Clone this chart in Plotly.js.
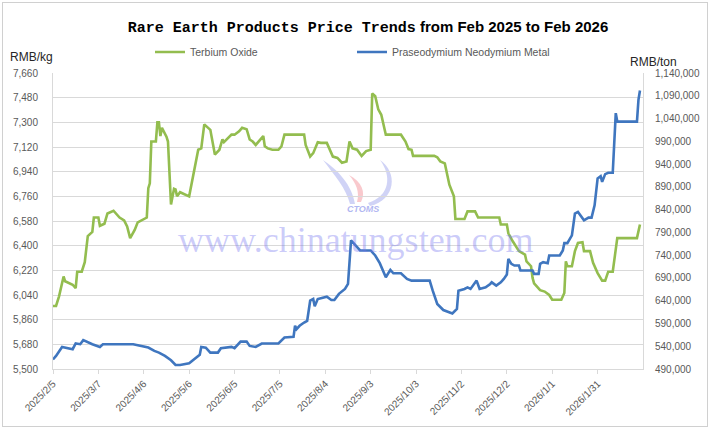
<!DOCTYPE html>
<html>
<head>
<meta charset="utf-8">
<script src="https://cdn.plot.ly/plotly-3.0.1.min.js"></script>
<style>
  html, body { margin: 0; padding: 0; background: #fff; }
  #chart { width: 710px; height: 429px; position: relative; }
  #frame { position: absolute; left: 2px; top: 2px; width: 704px; height: 423px; border: 1px solid #d0d0d0; pointer-events: none; }
</style>
</head>
<body>
<div id="chart"></div>
<div id="frame"></div>
<script>
// ---- data ----
const terbiumDates = [
  "2025-02-05","2025-02-07","2025-02-09","2025-02-12","2025-02-13","2025-02-18","2025-02-20","2025-02-21","2025-02-24","2025-02-26",
  "2025-02-28","2025-03-03","2025-03-04","2025-03-07","2025-03-08","2025-03-11","2025-03-13","2025-03-17","2025-03-21","2025-03-24",
  "2025-03-26","2025-03-28","2025-03-31","2025-04-02","2025-04-08","2025-04-09","2025-04-10","2025-04-11","2025-04-14","2025-04-15",
  "2025-04-16","2025-04-17","2025-04-18","2025-04-21","2025-04-22","2025-04-23","2025-04-24","2025-04-26","2025-04-27","2025-04-28",
  "2025-04-30","2025-05-06","2025-05-09","2025-05-12","2025-05-14","2025-05-16","2025-05-18","2025-05-20","2025-05-22","2025-05-23",
  "2025-05-26","2025-05-28","2025-05-29","2025-06-01","2025-06-03","2025-06-05","2025-06-08","2025-06-10","2025-06-13","2025-06-15",
  "2025-06-17","2025-06-19","2025-06-22","2025-06-24","2025-06-25","2025-06-27","2025-06-30","2025-07-04","2025-07-06","2025-07-08",
  "2025-07-21","2025-07-22","2025-07-25","2025-07-27","2025-07-30","2025-08-01","2025-08-05","2025-08-07","2025-08-09","2025-08-12",
  "2025-08-15","2025-08-18","2025-08-20","2025-08-22","2025-08-25","2025-08-28","2025-08-31","2025-09-03","2025-09-04","2025-09-06",
  "2025-09-08","2025-09-10","2025-09-12","2025-09-13","2025-09-23","2025-09-26","2025-09-28","2025-09-30","2025-10-01","2025-10-15",
  "2025-10-17","2025-10-19","2025-10-22","2025-10-24","2025-10-25","2025-10-28","2025-10-29","2025-11-04","2025-11-06","2025-11-11",
  "2025-11-13","2025-11-27","2025-11-28","2025-12-02","2025-12-03","2025-12-06","2025-12-10","2025-12-14","2025-12-15","2025-12-18",
  "2025-12-19","2025-12-20","2025-12-24","2025-12-27","2025-12-30","2026-01-01","2026-01-07","2026-01-09","2026-01-10","2026-01-11",
  "2026-01-14","2026-01-16","2026-01-18","2026-01-21","2026-01-22","2026-01-26","2026-01-28","2026-01-31","2026-02-03","2026-02-05",
  "2026-02-07","2026-02-10","2026-02-13","2026-02-26","2026-02-28"
];
const terbiumPrices = [
  5960,5960,6030,6175,6140,6115,6090,6210,6210,6280,
  6470,6500,6605,6605,6545,6560,6635,6655,6605,6585,
  6540,6455,6515,6570,6605,6820,6855,7160,7160,7300,
  7300,7200,7260,7195,7160,6880,6700,6815,6810,6760,
  6790,6760,6930,7100,7110,7285,7265,7245,7125,7065,
  7100,7175,7155,7185,7210,7210,7235,7260,7250,7175,
  7160,7135,7175,7200,7125,7110,7100,7100,7125,7210,
  7210,7135,7050,7075,7155,7150,7150,7100,7050,7040,
  7005,7015,7160,7110,7100,7055,7090,7100,7510,7490,
  7395,7355,7250,7210,7210,7160,7105,7100,7055,7055,
  7045,7015,7000,6905,6845,6760,6595,6595,6650,6650,
  6605,6605,6555,6555,6490,6430,6360,6335,6285,6250,
  6165,6125,6075,6065,6040,6005,6005,6055,6285,6250,
  6250,6360,6420,6425,6360,6360,6275,6200,6145,6145,
  6210,6210,6455,6455,6555
];

const prndDates = [
  "2025-02-05","2025-02-07","2025-02-11","2025-02-14","2025-02-18","2025-02-20","2025-02-23","2025-02-25","2025-02-27","2025-03-03",
  "2025-03-08","2025-03-10","2025-03-30","2025-04-04","2025-04-09","2025-04-13","2025-04-16","2025-04-20","2025-04-24","2025-04-27",
  "2025-04-30","2025-05-06","2025-05-09","2025-05-13","2025-05-14","2025-05-17","2025-05-20","2025-05-25","2025-05-27","2025-06-03",
  "2025-06-05","2025-06-09","2025-06-13","2025-06-15","2025-06-19","2025-06-23","2025-07-04","2025-07-08","2025-07-14","2025-07-15",
  "2025-07-16","2025-07-18","2025-07-21","2025-07-23","2025-07-25","2025-07-27","2025-07-28","2025-07-30","2025-08-05","2025-08-08",
  "2025-08-10","2025-08-13","2025-08-17","2025-08-19","2025-08-21","2025-08-24","2025-08-27","2025-09-03","2025-09-06","2025-09-09",
  "2025-09-11","2025-09-13","2025-09-16","2025-09-18","2025-09-23","2025-09-27","2025-09-30","2025-10-12","2025-10-14","2025-10-17",
  "2025-10-21","2025-10-24","2025-10-27","2025-10-30","2025-10-31","2025-11-04","2025-11-06","2025-11-08","2025-11-12","2025-11-14",
  "2025-11-18","2025-11-21","2025-11-22","2025-11-25","2025-11-28","2025-11-30","2025-12-02","2025-12-03","2025-12-05","2025-12-07",
  "2025-12-10","2025-12-11","2025-12-19","2025-12-20","2025-12-23","2025-12-24","2025-12-26","2025-12-29","2025-12-30","2026-01-06",
  "2026-01-07","2026-01-08","2026-01-09","2026-01-11","2026-01-14","2026-01-16","2026-01-18","2026-01-20","2026-01-22","2026-01-25",
  "2026-01-27","2026-01-29","2026-01-31","2026-02-02","2026-02-03","2026-02-05","2026-02-07","2026-02-10","2026-02-12","2026-02-13",
  "2026-02-26","2026-02-27","2026-02-28"
];
const prndPrices = [
  511000,518700,538500,537000,533500,546000,544500,553300,550000,544500,
  538500,544500,544500,540700,537000,529700,526000,518700,509200,498800,
  498800,502600,511400,521000,538500,537000,526000,526000,535600,538500,
  535600,550200,550200,540700,538500,546000,546000,559100,560600,584900,
  577500,584900,592100,595800,640000,643700,628000,643700,648800,641500,
  641500,655000,665800,676800,772300,761000,750300,750300,739300,722300,
  706200,691400,707700,700200,700200,687900,684100,684100,662000,632700,
  619500,616500,612000,621700,662000,665800,669300,665800,684100,665800,
  669300,676800,680300,673000,680300,687900,697300,732000,721000,717200,
  717200,706200,706200,698900,698900,721000,724600,722300,739300,739300,
  746700,750300,766400,766400,783400,831200,834800,825300,816400,822400,
  822400,849500,908400,913500,901000,917900,920800,920800,1051800,1033300,
  1033300,1081100,1101600
];

const xTickVals = ["2025-02-05","2025-03-07","2025-04-06","2025-05-06","2025-06-05","2025-07-05","2025-08-04",
                   "2025-09-03","2025-10-03","2025-11-02","2025-12-02","2026-01-01","2026-01-31"];
const xTickText = ["2025/2/5","2025/3/7","2025/4/6","2025/5/6","2025/6/5","2025/7/5","2025/8/4",
                   "2025/9/3","2025/10/3","2025/11/2","2025/12/2","2026/1/1","2026/1/31"];

// ---- chart ----
const W = 710, H = 429;
const M = { l: 53, r: 67, t: 73, b: 60 };
const PW = W - M.l - M.r, PH = H - M.t - M.b;
const px = x => (x - M.l) / PW;          // pixel -> paper x (decoration only)
const py = y => (H - M.b - y) / PH;      // pixel -> paper y (decoration only)

const tickFont = { family: "Liberation Sans, Arial, sans-serif", size: 10, color: "#595959" };

const traces = [
  {
    x: terbiumDates, y: terbiumPrices, name: "Terbium Oxide", type: "scatter", mode: "lines",
    line: { color: "#93BD4F", width: 2.6 }, yaxis: "y"
  },
  {
    x: prndDates, y: prndPrices, name: "Praseodymium Neodymium Metal", type: "scatter", mode: "lines",
    line: { color: "#3F76BF", width: 2.6 }, yaxis: "y2"
  }
];

function logoPath(pts) {
  return pts.map((p, i) => (i === 0 ? "M" : (p.length === 6 ? "C" : "L")) +
    (p.length === 6 ? [px(p[0]), py(p[1]), px(p[2]), py(p[3]), px(p[4]), py(p[5])].join(",")
                    : px(p[0]) + "," + py(p[1]))).join(" ") + " Z";
}

const layout = {
  width: W, height: H,
  margin: M,
  paper_bgcolor: "#ffffff", plot_bgcolor: "#ffffff",
  showlegend: true,
  title: {
    text: '<span style="font-family:Liberation Mono, monospace;font-size:15px;">Rare Earth Products Price Trends</span> from Feb 2025 to Feb 2026',
    font: { family: "Liberation Sans, Arial, sans-serif", size: 15, color: "#000000", weight: "bold" },
    x: 368 / W, xref: "container", xanchor: "center",
    y: 1 - 27 / H, yref: "container", yanchor: "middle"
  },
  legend: {
    orientation: "h",
    x: px(150), xanchor: "left",
    y: py(52), yanchor: "middle",
    font: { family: "Liberation Sans, Arial, sans-serif", size: 10.5, color: "#595959" },
    itemwidth: 30, entrywidth: 157, entrywidthmode: "pixels",
    bgcolor: "rgba(0,0,0,0)", borderwidth: 0
  },
  xaxis: {
    type: "date",
    range: ["2025-02-05", "2026-03-02"],
    tickmode: "array", tickvals: xTickVals, ticktext: xTickText,
    tickangle: -45, tickfont: tickFont,
    ticks: "outside", ticklen: 4, tickcolor: "#d9d9d9",
    showgrid: false, showline: true, linecolor: "#d9d9d9", linewidth: 1,
    zeroline: false, fixedrange: true
  },
  yaxis: {
    range: [5500, 7660], tickmode: "linear", tick0: 5500, dtick: 180,
    tickformat: ",d", tickfont: tickFont,
    showgrid: true, gridcolor: "#d9d9d9", gridwidth: 1,
    showline: true, linecolor: "#d9d9d9", linewidth: 1,
    ticks: "", ticklabelstandoff: 12, zeroline: false, fixedrange: true
  },
  yaxis2: {
    overlaying: "y", side: "right",
    range: [490000, 1140000], tickmode: "linear", tick0: 490000, dtick: 50000,
    tickformat: ",d", tickfont: tickFont,
    showgrid: false, showline: true, linecolor: "#d9d9d9", linewidth: 1,
    ticks: "", ticklabelstandoff: 9, zeroline: false, fixedrange: true
  },
  annotations: [
    { text: "RMB/kg", xref: "paper", yref: "paper", x: px(31), y: py(57), xanchor: "center", yanchor: "middle",
      showarrow: false, font: { family: "Liberation Sans, Arial, sans-serif", size: 12, color: "#262626" } },
    { text: "RMB/ton", xref: "paper", yref: "paper", x: px(653), y: py(62), xanchor: "center", yanchor: "middle",
      showarrow: false, font: { family: "Liberation Sans, Arial, sans-serif", size: 12, color: "#262626" } },
    { text: "www.chinatungsten.com", xref: "paper", yref: "paper", x: px(356), y: py(240), xanchor: "center", yanchor: "middle",
      showarrow: false, font: { family: "Liberation Serif, serif", size: 36, color: "rgba(120,120,240,0.38)" } },
    { text: "<i><b>CTOMS</b></i>", xref: "paper", yref: "paper", x: px(363), y: py(209), xanchor: "center", yanchor: "middle",
      showarrow: false, font: { family: "Liberation Sans, Arial, sans-serif", size: 9, color: "rgba(110,120,230,0.55)" } }
  ],
  shapes: [
    { type: "path", xref: "paper", yref: "paper", line: { width: 0 }, fillcolor: "rgba(120,130,230,0.35)", layer: "below",
      path: logoPath([[323,160],[338,170,352,185,355,204],[350,204],[346,188,335,176,323,160]]) },
    { type: "path", xref: "paper", yref: "paper", line: { width: 0 }, fillcolor: "rgba(240,120,130,0.40)", layer: "below",
      path: logoPath([[349,175],[362,182,366,192,361,202],[357,202],[360,192,356,183,349,175]]) },
    { type: "path", xref: "paper", yref: "paper", line: { width: 0 }, fillcolor: "rgba(120,130,230,0.35)", layer: "below",
      path: logoPath([[380,160],[398,172,396,200,370,206],[368,203],[390,196,392,176,380,160]]) }
  ]
};

Plotly.newPlot("chart", traces, layout, { staticPlot: true, displayModeBar: false });
</script>
</body>
</html>
